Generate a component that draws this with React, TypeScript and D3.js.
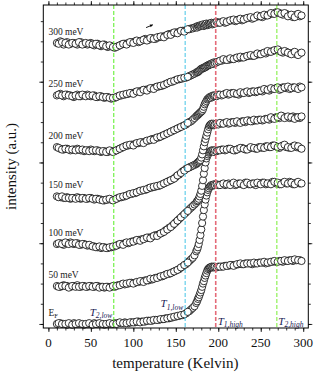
import React, { useEffect, useRef } from 'react'
import * as d3 from 'd3'

// heating run: temperature grid (Kelvin), denser around the transition
const temps = [
  10, 14, 18, 22, 26, 30, 34, 38, 42, 46,
  50, 54, 58, 62, 66, 70, 74, 78, 82, 86,
  90, 94, 98, 102, 106, 110, 114, 118, 122, 126,
  130, 134, 138, 142, 146, 150, 154, 158, 162, 166,
  168, 170, 172, 174, 175, 176, 177, 178, 179, 180,
  181, 182, 183, 184, 185, 186, 187, 188, 189, 190,
  191, 192, 193, 194, 195, 196, 198, 200,
  204, 208, 212, 216, 220, 224, 228, 232, 236, 240, 244, 248,
  252, 256, 260, 264, 268, 272, 276, 280, 284, 288, 292, 296
]

const ef = [
  0.00, 0.01, 0.00, -0.01, 0.00, 0.01, 0.00, 0.00, -0.01, 0.00,
  0.00, 0.01, 0.00, 0.00, -0.01, 0.00, 0.00, 0.01, 0.01, 0.01,
  0.02, 0.01, 0.02, 0.02, 0.03, 0.03, 0.03, 0.04, 0.04, 0.05,
  0.05, 0.06, 0.07, 0.07, 0.08, 0.09, 0.10, 0.11, 0.13, 0.16,
  0.18, 0.20, 0.22, 0.26, 0.28, 0.31, 0.33, 0.36, 0.39, 0.42,
  0.46, 0.50, 0.53, 0.57, 0.60, 0.63, 0.66, 0.68, 0.69, 0.70,
  0.70, 0.71, 0.70, 0.71, 0.70, 0.71, 0.70, 0.71,
  0.71, 0.72, 0.72, 0.73, 0.73, 0.74, 0.74, 0.75, 0.75, 0.74, 0.75, 0.76,
  0.76, 0.75, 0.76, 0.77, 0.77, 0.78, 0.77, 0.78, 0.79, 0.78, 0.79, 0.79
]
const mev50 = [
  0.47, 0.46, 0.48, 0.47, 0.46, 0.47, 0.48, 0.46, 0.47, 0.46,
  0.47, 0.46, 0.47, 0.46, 0.45, 0.46, 0.46, 0.46, 0.48, 0.49,
  0.49, 0.50, 0.51, 0.51, 0.52, 0.53, 0.54, 0.54, 0.55, 0.57,
  0.58, 0.59, 0.61, 0.62, 0.64, 0.66, 0.68, 0.71, 0.74, 0.78,
  0.80, 0.82, 0.85, 0.90, 0.92, 0.95, 0.99, 1.04, 1.10, 1.17,
  1.25, 1.33, 1.41, 1.48, 1.54, 1.59, 1.63, 1.66, 1.68, 1.70,
  1.71, 1.72, 1.71, 1.72, 1.73, 1.72, 1.73, 1.72,
  1.73, 1.72, 1.74, 1.73, 1.72, 1.74, 1.73, 1.75, 1.73, 1.74, 1.72, 1.74,
  1.75, 1.73, 1.74, 1.76, 1.74, 1.73, 1.75, 1.74, 1.76, 1.73, 1.75, 1.74
]
const mev100 = [
  0.99, 1.00, 0.98, 1.00, 1.01, 0.99, 1.00, 0.98, 0.99, 0.97,
  0.97, 0.96, 0.95, 0.94, 0.95, 0.94, 0.95, 0.96, 0.98, 0.99,
  1.00, 1.00, 1.02, 1.03, 1.04, 1.05, 1.06, 1.07, 1.08, 1.10,
  1.11, 1.13, 1.16, 1.19, 1.22, 1.26, 1.30, 1.34, 1.38, 1.42,
  1.44, 1.46, 1.48, 1.50, 1.52, 1.53, 1.55, 1.58, 1.61, 1.65,
  1.71, 1.78, 1.86, 1.93, 2.00, 2.05, 2.08, 2.10, 2.12, 2.13,
  2.14, 2.15, 2.14, 2.15, 2.13, 2.15, 2.14, 2.15,
  2.16, 2.15, 2.17, 2.16, 2.15, 2.17, 2.18, 2.16, 2.17, 2.18, 2.17, 2.19,
  2.18, 2.20, 2.19, 2.21, 2.20, 2.18, 2.21, 2.19, 2.18, 2.20, 2.19, 2.18
]
const mev150 = [
  1.58, 1.57, 1.56, 1.57, 1.55, 1.56, 1.57, 1.55, 1.56, 1.55,
  1.56, 1.54, 1.55, 1.54, 1.53, 1.54, 1.54, 1.54, 1.56, 1.57,
  1.58, 1.60, 1.61, 1.62, 1.64, 1.65, 1.66, 1.68, 1.69, 1.70,
  1.71, 1.73, 1.75, 1.77, 1.79, 1.82, 1.85, 1.89, 1.92, 1.94,
  1.95, 1.96, 1.97, 1.98, 1.99, 2.00, 2.01, 2.02, 2.03, 2.06,
  2.10, 2.15, 2.20, 2.25, 2.29, 2.33, 2.37, 2.41, 2.44, 2.46,
  2.47, 2.48, 2.47, 2.48, 2.46, 2.47, 2.48, 2.47,
  2.48, 2.49, 2.48, 2.50, 2.49, 2.50, 2.51, 2.50, 2.52, 2.51, 2.52, 2.53,
  2.52, 2.54, 2.53, 2.55, 2.56, 2.55, 2.57, 2.56, 2.55, 2.57, 2.56, 2.55
]
const mev200 = [
  2.19, 2.17, 2.16, 2.17, 2.15, 2.16, 2.17, 2.15, 2.14, 2.15,
  2.16, 2.14, 2.15, 2.13, 2.14, 2.13, 2.14, 2.14, 2.16, 2.18,
  2.20, 2.21, 2.22, 2.23, 2.24, 2.25, 2.26, 2.27, 2.29, 2.30,
  2.31, 2.33, 2.35, 2.37, 2.39, 2.41, 2.43, 2.45, 2.47, 2.50,
  2.51, 2.53, 2.55, 2.57, 2.58, 2.59, 2.60, 2.61, 2.62, 2.63,
  2.64, 2.66, 2.69, 2.72, 2.74, 2.76, 2.78, 2.79, 2.80, 2.81,
  2.80, 2.82, 2.81, 2.83, 2.82, 2.83, 2.82, 2.84,
  2.83, 2.85, 2.84, 2.86, 2.85, 2.84, 2.86, 2.87, 2.86, 2.88, 2.87, 2.89,
  2.88, 2.90, 2.89, 2.91, 2.92, 2.90, 2.93, 2.92, 2.91, 2.93, 2.92, 2.94
]
const mev250 = [
  2.83, 2.85, 2.82, 2.84, 2.83, 2.81, 2.84, 2.82, 2.83, 2.84,
  2.82, 2.83, 2.81, 2.82, 2.80, 2.81, 2.79, 2.80, 2.82, 2.83,
  2.84, 2.85, 2.86, 2.87, 2.88, 2.89, 2.90, 2.91, 2.92, 2.93,
  2.94, 2.95, 2.97, 2.99, 3.00, 3.02, 3.03, 3.04, 3.05, 3.07,
  3.08, 3.09, 3.10, 3.11, 3.12, 3.12, 3.13, 3.14, 3.15, 3.16,
  3.16, 3.17, 3.17, 3.18, 3.18, 3.19, 3.20, 3.20, 3.21, 3.21,
  3.22, 3.22, 3.23, 3.22, 3.24, 3.23, 3.24, 3.25,
  3.26, 3.27, 3.27, 3.28, 3.29, 3.29, 3.30, 3.31, 3.32, 3.32, 3.33, 3.34,
  3.35, 3.35, 3.37, 3.38, 3.39, 3.38, 3.36, 3.37, 3.35, 3.36, 3.34, 3.35
]
const mev300 = [
  3.48, 3.50, 3.46, 3.49, 3.47, 3.48, 3.46, 3.49, 3.47, 3.46,
  3.48, 3.45, 3.47, 3.44, 3.46, 3.43, 3.44, 3.42, 3.44, 3.46,
  3.47, 3.48, 3.49, 3.50, 3.49, 3.51, 3.53, 3.52, 3.54, 3.53,
  3.55, 3.56, 3.57, 3.59, 3.60, 3.61, 3.62, 3.63, 3.64, 3.65,
  3.66, 3.66, 3.67, 3.68, 3.67, 3.69, 3.68, 3.69, 3.70, 3.69,
  3.70, 3.71, 3.69, 3.70, 3.71, 3.72, 3.70, 3.71, 3.72, 3.71,
  3.72, 3.73, 3.71, 3.72, 3.73, 3.72, 3.74, 3.73,
  3.74, 3.73, 3.75, 3.76, 3.75, 3.77, 3.76, 3.78, 3.79, 3.78, 3.80, 3.81,
  3.80, 3.82, 3.83, 3.84, 3.86, 3.85, 3.83, 3.84, 3.82, 3.80, 3.83, 3.81
]

// second (cooling) run, away from the transition
const tempsB = [
  12, 16, 20, 24, 28, 32, 36, 40, 44, 48,
  52, 56, 60, 64, 68, 72, 76, 80, 84, 88,
  92, 96, 100, 104, 108, 112, 116, 120, 124, 128,
  132, 136, 140, 144, 148, 152, 156, 160, 164,
  202, 206, 210, 214, 218, 222, 226, 230, 234, 238, 242, 246,
  250, 254, 258, 262, 266, 270, 274, 278, 282, 286, 290, 294, 298
]
const efB = [
  0.01, 0.00, 0.00, 0.01, -0.01, 0.00, 0.01, 0.00, 0.00, 0.01,
  -0.01, 0.00, 0.01, 0.00, 0.00, 0.01, 0.00, 0.00, 0.02, 0.01,
  0.01, 0.02, 0.02, 0.03, 0.02, 0.03, 0.04, 0.04, 0.05, 0.05,
  0.06, 0.06, 0.07, 0.08, 0.09, 0.10, 0.11, 0.12, 0.15,
  0.71, 0.71, 0.72, 0.73, 0.72, 0.74, 0.75, 0.74, 0.75, 0.75, 0.76, 0.75,
  0.76, 0.77, 0.76, 0.77, 0.78, 0.77, 0.78, 0.79, 0.78, 0.79, 0.80, 0.79, 0.78
]
const mev50B = [
  0.46, 0.47, 0.47, 0.45, 0.47, 0.46, 0.46, 0.47, 0.46, 0.47,
  0.46, 0.47, 0.45, 0.46, 0.46, 0.45, 0.47, 0.47, 0.48, 0.50,
  0.50, 0.51, 0.50, 0.52, 0.53, 0.52, 0.54, 0.56, 0.56, 0.57,
  0.59, 0.60, 0.62, 0.63, 0.65, 0.67, 0.70, 0.73, 0.76,
  1.72, 1.74, 1.73, 1.72, 1.75, 1.73, 1.74, 1.72, 1.75, 1.73, 1.74, 1.75,
  1.73, 1.75, 1.74, 1.73, 1.76, 1.75, 1.73, 1.76, 1.74, 1.75, 1.73, 1.76, 1.74
]
const mev100B = [
  1.00, 0.99, 1.01, 0.99, 1.00, 1.00, 0.98, 0.99, 0.98, 0.98,
  0.96, 0.95, 0.96, 0.95, 0.94, 0.95, 0.96, 0.97, 0.99, 0.98,
  1.01, 1.01, 1.02, 1.04, 1.03, 1.05, 1.07, 1.06, 1.09, 1.09,
  1.12, 1.14, 1.17, 1.20, 1.24, 1.28, 1.32, 1.36, 1.40,
  2.15, 2.16, 2.16, 2.17, 2.15, 2.16, 2.18, 2.17, 2.16, 2.19, 2.18, 2.17,
  2.19, 2.18, 2.20, 2.19, 2.21, 2.19, 2.20, 2.22, 2.19, 2.18, 2.21, 2.20, 2.17
]
const mev150B = [
  1.57, 1.58, 1.56, 1.56, 1.56, 1.55, 1.56, 1.56, 1.55, 1.56,
  1.55, 1.55, 1.54, 1.53, 1.54, 1.55, 1.53, 1.55, 1.57, 1.58,
  1.59, 1.61, 1.62, 1.63, 1.65, 1.66, 1.67, 1.69, 1.70, 1.71,
  1.72, 1.74, 1.76, 1.78, 1.80, 1.84, 1.87, 1.90, 1.93,
  2.49, 2.48, 2.50, 2.49, 2.50, 2.51, 2.49, 2.51, 2.52, 2.51, 2.53, 2.52,
  2.53, 2.53, 2.54, 2.56, 2.54, 2.56, 2.58, 2.55, 2.57, 2.56, 2.54, 2.56, 2.57
]
const mev200B = [
  2.18, 2.16, 2.17, 2.16, 2.16, 2.15, 2.16, 2.16, 2.15, 2.14,
  2.15, 2.15, 2.14, 2.14, 2.13, 2.15, 2.13, 2.15, 2.17, 2.19,
  2.21, 2.22, 2.21, 2.24, 2.25, 2.24, 2.27, 2.28, 2.28, 2.31,
  2.32, 2.34, 2.36, 2.38, 2.40, 2.42, 2.44, 2.46, 2.49,
  2.84, 2.84, 2.86, 2.85, 2.86, 2.85, 2.87, 2.86, 2.88, 2.87, 2.88, 2.88,
  2.89, 2.91, 2.90, 2.92, 2.91, 2.93, 2.91, 2.93, 2.94, 2.92, 2.93, 2.91, 2.93
]
const mev250B = [
  2.84, 2.83, 2.84, 2.83, 2.82, 2.83, 2.82, 2.84, 2.82, 2.83,
  2.83, 2.81, 2.82, 2.81, 2.81, 2.80, 2.80, 2.81, 2.83, 2.84,
  2.85, 2.86, 2.85, 2.88, 2.87, 2.90, 2.89, 2.92, 2.91, 2.94,
  2.95, 2.96, 2.98, 3.00, 3.01, 3.03, 3.04, 3.05, 3.06,
  3.26, 3.28, 3.27, 3.29, 3.28, 3.30, 3.31, 3.30, 3.32, 3.33, 3.32, 3.35,
  3.34, 3.36, 3.38, 3.37, 3.39, 3.40, 3.37, 3.38, 3.36, 3.34, 3.37, 3.33, 3.36
]
const mev300B = [
  3.47, 3.49, 3.48, 3.46, 3.48, 3.47, 3.49, 3.46, 3.48, 3.47,
  3.46, 3.47, 3.45, 3.46, 3.44, 3.45, 3.43, 3.43, 3.45, 3.47,
  3.46, 3.49, 3.48, 3.51, 3.50, 3.52, 3.51, 3.54, 3.53, 3.55,
  3.56, 3.55, 3.58, 3.58, 3.61, 3.60, 3.63, 3.62, 3.65,
  3.73, 3.75, 3.74, 3.76, 3.77, 3.76, 3.78, 3.77, 3.79, 3.80, 3.79, 3.82,
  3.81, 3.83, 3.82, 3.85, 3.84, 3.86, 3.84, 3.85, 3.81, 3.83, 3.80, 3.84, 3.82
]

const seriesLabels = ['E', '50 meV', '100 meV', '150 meV', '200 meV', '250 meV', '300 meV']
const seriesValues = [ef, mev50, mev100, mev150, mev200, mev250, mev300]
const seriesValuesB = [efB, mev50B, mev100B, mev150B, mev200B, mev250B, mev300B]

const xTickValues = [0, 50, 100, 150, 200, 250, 300]

// characteristic temperatures
const markerTemps = [77, 161, 197, 269]
const markerSubs = ['2,low', '1,low', '1,high', '2,high']
const markerColors = ['#55ee22', '#44c4e6', '#e46a78', '#77ee33']

const FONT = '"Liberation Serif", "DejaVu Serif", serif'

const App = () => {
  const ref = useRef<SVGSVGElement>(null)

  useEffect(() => {
    drawChart()
  }, [])

  const drawChart = () => {
    const width = 316
    const height = 375
    const left = 43.3
    const right = 308.3
    const top = 5
    const bottom = 328

    const svg = d3.select(ref.current)
    svg.selectAll('*').remove()
    svg.attr('width', width).attr('height', height)

    const x = d3.scaleLinear().domain([-6, 306]).range([left, right])
    const y = d3.scaleLinear().domain([-0.05, 3.95]).range([bottom, top])

    // ticks (all pointing outward)
    const minorX = d3.range(0, 301, 10)
    const majorY = [0, 1, 2, 3]
    const minorY = d3.range(0, 3.9, 0.25)

    const addAxis = (axis: any, transform: string) => {
      const g = svg.append('g').attr('transform', transform).call(axis)
      g.select('.domain').remove()
      g.selectAll('line').attr('stroke', '#000').attr('stroke-width', 0.8)
      g.selectAll('text').remove()
    }
    addAxis(d3.axisBottom(x).tickValues(xTickValues).tickSize(4), `translate(0,${bottom})`)
    addAxis(d3.axisBottom(x).tickValues(minorX).tickSize(2.5), `translate(0,${bottom})`)
    addAxis(d3.axisTop(x).tickValues(xTickValues).tickSize(4), `translate(0,${top})`)
    addAxis(d3.axisTop(x).tickValues(minorX).tickSize(2.5), `translate(0,${top})`)
    addAxis(d3.axisLeft(y).tickValues(majorY).tickSize(4), `translate(${left},0)`)
    addAxis(d3.axisLeft(y).tickValues(minorY).tickSize(2.5), `translate(${left},0)`)
    addAxis(d3.axisRight(y).tickValues(majorY).tickSize(4), `translate(${right},0)`)
    addAxis(d3.axisRight(y).tickValues(minorY).tickSize(2.5), `translate(${right},0)`)

    svg.append('g')
      .selectAll('text')
      .data(xTickValues)
      .enter()
      .append('text')
      .attr('x', d => x(d))
      .attr('y', 347)
      .attr('text-anchor', 'middle')
      .attr('font-family', FONT)
      .attr('font-size', 13)
      .attr('fill', '#111')
      .text(d => d)

    // data: both runs of every energy, open circles
    seriesValues.forEach((vals, si) => {
      const ptsA = temps.map((t, i) => [t, vals[i]])
      const ptsB = tempsB.map((t, i) => [t, seriesValuesB[si][i]])
      svg.append('g')
        .selectAll('circle')
        .data(ptsA.concat(ptsB))
        .enter()
        .append('circle')
        .attr('cx', d => x(d[0]))
        .attr('cy', d => y(d[1]))
        .attr('r', 3.6)
        .attr('fill', '#fff')
        .attr('stroke', '#111')
        .attr('stroke-width', 0.85)

      const lbl = svg.append('text')
        .attr('x', x(0))
        .attr('y', y(vals[0]) - 8)
        .attr('font-family', FONT)
        .attr('font-size', 9.5)
        .attr('fill', '#222')
        .text(seriesLabels[si])
      if (si === 0) {
        lbl.append('tspan').attr('dy', 2.5).attr('font-size', 6.5).text('F')
      }
    })

    // dashed marker lines
    markerTemps.forEach((t, i) => {
      svg.append('line')
        .attr('x1', x(t)).attr('x2', x(t))
        .attr('y1', top).attr('y2', bottom)
        .attr('stroke', markerColors[i])
        .attr('stroke-width', i === 2 ? 1.6 : 1)
        .attr('stroke-dasharray', '4,2')
    })

    const markerPos = [
      { dx: -1.5, v: 0.1, anchor: 'end' },
      { dx: -2, v: 0.21, anchor: 'end' },
      { dx: 2, v: -0.01, anchor: 'start' },
      { dx: 1.5, v: -0.01, anchor: 'start' }
    ]
    markerTemps.forEach((t, i) => {
      const txt = svg.append('text')
        .attr('x', x(t) + markerPos[i].dx)
        .attr('y', y(markerPos[i].v))
        .attr('text-anchor', markerPos[i].anchor)
        .attr('font-family', FONT)
        .attr('font-style', 'italic')
        .attr('font-size', 11)
        .attr('fill', '#1a1a55')
      txt.append('tspan').text('T')
      txt.append('tspan').attr('dy', 2.5).attr('font-size', 7.5).text(markerSubs[i])
    })

    // heating-direction arrow
    const ax1 = x(115), ay1 = y(3.67), ax2 = x(123), ay2 = y(3.705)
    svg.append('line')
      .attr('x1', ax1).attr('y1', ay1).attr('x2', ax2).attr('y2', ay2)
      .attr('stroke', '#000').attr('stroke-width', 0.9)
    const ang = Math.atan2(ay2 - ay1, ax2 - ax1)
    const hl = 3.2
    svg.append('path')
      .attr('d', `M${ax2},${ay2}L${ax2 - hl * Math.cos(ang - 0.45)},${ay2 - hl * Math.sin(ang - 0.45)}L${ax2 - hl * Math.cos(ang + 0.45)},${ay2 - hl * Math.sin(ang + 0.45)}Z`)
      .attr('fill', '#000')

    // frame
    svg.append('rect')
      .attr('x', left).attr('y', top)
      .attr('width', right - left).attr('height', bottom - top)
      .attr('fill', 'none').attr('stroke', '#000').attr('stroke-width', 1)

    // axis titles
    svg.append('text')
      .attr('x', (left + right) / 2 - 0.5)
      .attr('y', 368)
      .attr('text-anchor', 'middle')
      .attr('font-family', FONT)
      .attr('font-size', 15)
      .attr('fill', '#111')
      .text('temperature (Kelvin)')

    svg.append('text')
      .attr('transform', `translate(15.5,${(top + bottom) / 2}) rotate(-90)`)
      .attr('text-anchor', 'middle')
      .attr('font-family', FONT)
      .attr('font-size', 15)
      .attr('fill', '#111')
      .text('intensity (a.u.)')
  }

  return (
    <svg ref={ref} width={316} height={375} style={{ position: 'absolute', left: 0, top: 0 }}></svg>
  )
}

export default App
